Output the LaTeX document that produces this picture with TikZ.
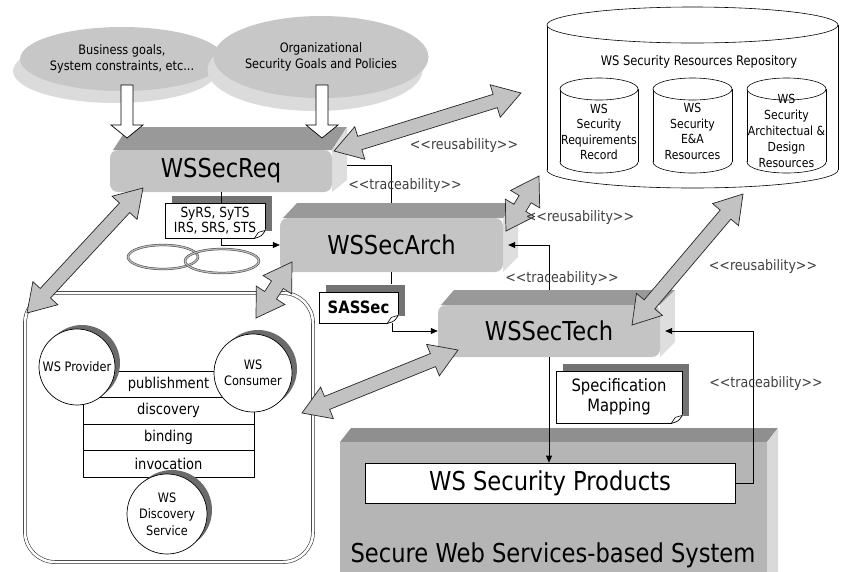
\documentclass[tikz,border=0pt]{standalone}
\usepackage{fontspec}
\setmainfont{DejaVu Sans}[FakeStretch=0.87]
\usetikzlibrary{calc,shapes.geometric,shadows,arrows.meta}

\definecolor{bfront}{gray}{0.77}
\definecolor{btop}{gray}{0.60}
\definecolor{bside}{gray}{0.87}
\definecolor{sfront}{gray}{0.71}
\definecolor{stop}{gray}{0.56}
\definecolor{sside}{gray}{0.85}
\definecolor{afill}{gray}{0.76}
\definecolor{nshadow}{gray}{0.45}
\definecolor{cshadow}{gray}{0.42}
\definecolor{ellfill}{gray}{0.78}
\definecolor{ellside}{gray}{0.86}

\newcommand{\fatarrow}[2]{%
\draw[fatarr] (#1)
 -- ($(#1)!27pt!(#2)!17pt!90:(#2)$)
 -- ($(#1)!27pt!(#2)!7pt!90:(#2)$)
 -- ($(#2)!27pt!(#1)!7pt!-90:(#1)$)
 -- ($(#2)!27pt!(#1)!17pt!-90:(#1)$)
 -- (#2)
 -- ($(#2)!27pt!(#1)!17pt!90:(#1)$)
 -- ($(#2)!27pt!(#1)!7pt!90:(#1)$)
 -- ($(#1)!27pt!(#2)!7pt!-90:(#2)$)
 -- ($(#1)!27pt!(#2)!17pt!-90:(#2)$)
 -- cycle;}

\newcommand{\hollowdown}[3]{%
 \draw[fill=white, line width=0.7pt, line join=miter] ({#1-6},#2) -- ({#1+6},#2) -- ({#1+6},{#3-13}) -- ({#1+16},{#3-13}) -- (#1,#3) -- ({#1-16},{#3-13}) -- ({#1-6},{#3-13}) -- cycle;}

\newcommand{\cyl}[5]{%
 \draw[fill=white, line width=0.6pt] (#1,#3) ellipse [x radius=#4, y radius=#5];
 \fill[white] ({#1-#4},#2) rectangle ({#1+#4},#3);
 \draw[line width=0.6pt] ({#1-#4},#2) -- ({#1-#4},#3) ({#1+#4},#2) -- ({#1+#4},#3);
 \draw[fill=white, line width=0.6pt] (#1,#2) ellipse [x radius=#4, y radius=#5];}

\newcommand{\notefold}[1]{%
 \fill[white] ($(#1.south east)+(-11,0.8)$) -- ($(#1.south east)+(0.8,0.8)$) -- ($(#1.south east)+(0.8,-9)$) -- cycle;
 \draw[line width=0.7pt] ($(#1.south east)+(-11,0)$) .. controls ($(#1.south east)+(-4,-2)$) .. ($(#1.south east)+(0,-8)$);
 \draw[line width=0.6pt] ($(#1.south east)+(-11,0)$) -- ($(#1.south east)+(-7,-6)$) -- ($(#1.south east)+(0,-8)$);}

\begin{document}
\begin{tikzpicture}[x=1pt,y=-1pt,
  lbl/.style={font=\fontsize{14.5}{16}\selectfont, text=black!75, inner sep=0pt},
  boxtitle/.style={font=\fontsize{26}{30}\selectfont},
  boxfront/.style={fill=bfront, rounded corners=8pt, inner sep=0pt, boxtitle},
  note/.style={draw, fill=white, line width=0.7pt, inner sep=0pt, align=center,
     general shadow={fill=nshadow, shadow xshift=7pt, shadow yshift=7pt}},
  wscircle/.style={circle, draw, fill=white, line width=0.7pt, inner sep=0pt, align=center,
     font=\fontsize{13}{16.5}\selectfont,
     general shadow={fill=cshadow, shadow xshift=5pt, shadow yshift=4pt}},
  row/.style={draw, fill=white, line width=0.7pt, minimum width=171pt, minimum height=26.5pt,
     inner sep=0pt, font=\fontsize{15}{17}\selectfont},
  cyltext/.style={align=center, inner sep=0pt, font=\fontsize{12.5}{15.5}\selectfont},
  topell/.style={ellipse, fill=ellfill, inner sep=0pt, align=center, font=\fontsize{13}{15.5}\selectfont},
  fatarr/.style={fill=afill, draw=black!85, line width=0.7pt, line join=miter},
  plain/.style={draw, line width=0.7pt},
  conn/.style={draw, line width=0.7pt, -{Triangle[length=7pt,width=6pt]}},
  ]
\useasboundingbox (0,0) rectangle (841,571);

% ---------- repository ----------
\cyl{692.5}{25}{170}{145.5}{18}
\node[font=\fontsize{13.2}{15}\selectfont, inner sep=0pt] (repotitle) at (699,62) {WS Security Resources Repository};
\cyl{599}{89}{162}{39}{11}
\cyl{692.5}{89}{162}{39.5}{11}
\cyl{786.5}{89}{162}{39.5}{11}
\node[cyltext] (c1t) at (599,132) {WS\\Security\\Requirements\\Record};
\node[cyltext] (c2t) at (692.5,131.5) {WS\\Security\\E\&A\\Resources};
\node[cyltext, font=\fontsize{12.5}{16.2}\selectfont] (c3t) at (786.5,131) {WS\\Security\\Architectual \&\\Design\\Resources};

% ---------- goal ellipses ----------
\node[topell, minimum width=194pt, minimum height=64pt,
  general shadow={fill=ellside, shadow xshift=-7pt, shadow yshift=-12pt}] (ell1) at (122,59)
  {Business goals,\\System constraints, etc...};
\node[topell, minimum width=180pt, minimum height=82pt,
  general shadow={fill=ellside, shadow xshift=-6pt, shadow yshift=-13pt}] (ell2) at (321,57)
  {Organizational\\Security Goals and Policies};

% ---------- 3D boxes ----------
\fill[btop] (113,150) -- (128,127) -- (347,127) -- (332,150) -- cycle;
\fill[bside] (332,150) -- (347,127) -- (347,180) -- (332,192) -- cycle;
\node[boxfront, minimum width=222pt, minimum height=42pt] (req) at (221,171) {WSSecReq};

\fill[btop] (283,218) -- (297,203) -- (518,203) -- (503,218) -- cycle;
\fill[bside] (503,218) -- (518,203) -- (518,257) -- (503,272) -- cycle;
\node[boxfront, minimum width=223pt, minimum height=54pt] (arch) at (391.5,245) {WSSecArch};

\fill[btop] (441,305) -- (454,290) -- (675,290) -- (660,305) -- cycle;
\fill[bside] (660,305) -- (675,290) -- (675,342) -- (660,357) -- cycle;
\node[boxfront, minimum width=222pt, minimum height=52pt] (tech) at (549,331) {WSSecTech};

% ---------- system ----------
\fill[stop] (340,442) -- (351,428) -- (778,428) -- (767,442) -- cycle;
\fill[sside] (767,442) -- (778,428) -- (778,580) -- (767,580) -- cycle;
\node[fill=sfront, minimum width=427pt, minimum height=140pt, inner sep=0pt] (sys) at (553.5,512) {};
\node[anchor=base, font=\fontsize{26}{30}\selectfont, inner sep=0pt] (systitle) at (553,562) {Secure Web Services-based System};
\node[draw, fill=white, line width=0.7pt, minimum width=370pt, minimum height=40pt, inner sep=0pt,
  font=\fontsize{26}{30}\selectfont] (prod) at (550,483) {WS Security Products};

% ---------- WS container ----------
\node[draw=black!80, double=white, double distance=2.5pt, line width=0.6pt, rounded corners=30pt,
  minimum width=288pt, minimum height=269pt, inner sep=0pt] (wsbox) at (169,427.5) {};
\node[row] (r1) at (168.5,384.25) {publishment};
\node[row] (r2) at (168.5,410.75) {discovery};
\node[row] (r3) at (168.5,437.25) {binding};
\node[row] (r4) at (168.5,463.75) {invocation};
\node[wscircle, minimum size=76pt] (prov) at (77,367) {WS Provider};
\node[wscircle, minimum size=78pt] (cons) at (253,373) {WS\\Consumer};
\node[wscircle, minimum size=80pt] (disc) at (167,514) {WS\\Discovery\\Service};

% ---------- double ellipses ----------
\node[ellipse, draw=black!75, double=gray!55, double distance=1.3pt, line width=0.5pt,
  minimum width=70pt, minimum height=24pt] (e1) at (163,257) {};
\node[ellipse, draw=black!75, double=gray!55, double distance=1.3pt, line width=0.5pt,
  minimum width=74pt, minimum height=24pt] (e2) at (222,261) {};

% ---------- notes ----------
\node[note, minimum width=100pt, minimum height=35pt, font=\fontsize{14}{15}\selectfont] (syrs) at (215,220.5) {SyRS, SyTS\\IRS, SRS, STS};
\notefold{syrs}
\node[note, minimum width=79pt, minimum height=31pt, font=\fontsize{17}{20}\selectfont\bfseries] (sassec) at (358.5,307.5) {SASSec};
\notefold{sassec}
\node[note, minimum width=126pt, minimum height=52pt, font=\fontsize{17}{20}\selectfont] (spec) at (619,397) {Specification\\Mapping};
\notefold{spec}

% ---------- connectors ----------
\draw[plain] (req.south) -- (req.south |- syrs.north);
\draw[conn] (req.south |- syrs.south) |- (arch.west);
\draw[plain] ([shift={(15pt,6pt)}]req.east) -| ([yshift=15pt]arch.north);
\draw[plain] (arch.south) -- ++(0,12);
\draw[conn] ([xshift=34pt]sassec.south) |- (tech.west);
\draw[conn] ([yshift=15pt]tech.north) |- ([xshift=5pt]arch.east);
\draw[conn] (tech.south) -- (tech.south |- prod.north);
\draw[conn] (prod.east) -- ([xshift=18pt]prod.east) |- ([xshift=5pt]tech.east);

% ---------- fat arrows ----------
\coordinate (a1s) at (334,151); \coordinate (a1e) at (521,93);
\coordinate (a2s) at (506,231); \coordinate (a2e) at (539,176);
\coordinate (a3s) at (632,325); \coordinate (a3e) at (743,194);
\coordinate (a4s) at (143,188); \coordinate (a4e) at (27,313);
\coordinate (a5s) at (292,262); \coordinate (a5e) at (256,318);
\coordinate (a6s) at (458,350); \coordinate (a6e) at (302,413);
\fatarrow{a1s}{a1e}
\fatarrow{a2s}{a2e}
\fatarrow{a3s}{a3e}
\fatarrow{a4s}{a4e}
\fatarrow{a5s}{a5e}
\fatarrow{a6s}{a6e}

% ---------- hollow arrows ----------
\hollowdown{127}{85}{138}
\hollowdown{322}{85}{138}

% ---------- labels ----------
\node[lbl] (l1) at (464,145) {{<}{<}reusability{>}{>}};
\node[lbl] (l2) at (580,217) {{<}{<}reusability{>}{>}};
\node[lbl] (l3) at (763,266) {{<}{<}reusability{>}{>}};
\node[lbl] (l4) at (405,185) {{<}{<}traceability{>}{>}};
\node[lbl] (l5) at (562,278) {{<}{<}traceability{>}{>}};
\node[lbl] (l6) at (766,383) {{<}{<}traceability{>}{>}};
\end{tikzpicture}
\end{document}
